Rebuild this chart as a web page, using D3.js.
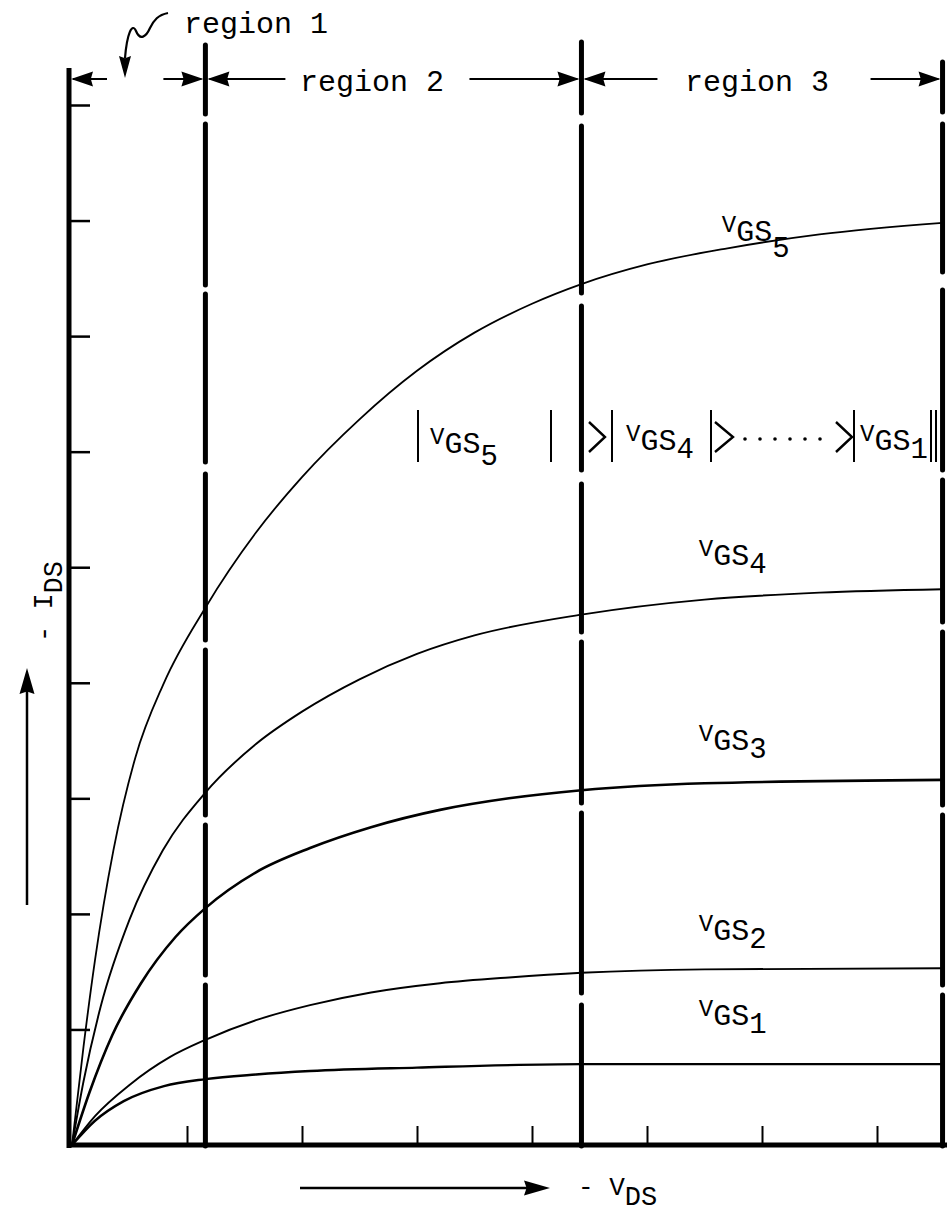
<!DOCTYPE html>
<html><head><meta charset="utf-8">
<script src="https://cdn.jsdelivr.net/npm/d3@7"></script>
<style>html,body{margin:0;padding:0;background:#fff;}</style>
</head><body>
<script>
// ---- data ----
const xTicks = [1,2,3,4,5,6,7];
const yTicks = [1,2,3,4,5,6,7,8,9];
const regionBounds = [1.16, 4.43, 7.57];
const regionNames = ["region 1","region 2","region 3"];
const seriesNames = ["5","4","3","2","1"];
const vgs5 = [[0,0],[0.1,0.85],[0.2,1.6],[0.36,2.55],[0.55,3.35],[0.8,4.0],[1.16,4.65],[1.6,5.3],[2.0,5.78],[2.5,6.28],[3.0,6.7],[3.5,7.03],[4.0,7.28],[4.43,7.45],[5.0,7.62],[5.7,7.76],[6.5,7.88],[7.57,7.98]];
const vgs4 = [[0,0],[0.1,0.55],[0.25,1.2],[0.5,1.95],[0.79,2.55],[1.16,3.05],[1.6,3.47],[2.0,3.75],[2.5,4.03],[3.0,4.25],[3.5,4.41],[4.43,4.59],[5.5,4.72],[6.5,4.78],[7.57,4.81]];
const vgs3 = [[0,0],[0.15,0.45],[0.35,0.95],[0.6,1.4],[0.9,1.8],[1.16,2.05],[1.6,2.36],[2.07,2.57],[2.6,2.75],[3.2,2.9],[3.8,3.0],[4.43,3.07],[5.5,3.13],[7.57,3.16]];
const vgs2 = [[0,0],[0.2,0.25],[0.5,0.52],[0.85,0.76],[1.16,0.91],[1.6,1.08],[2.07,1.21],[2.6,1.32],[3.2,1.4],[3.8,1.45],[4.43,1.49],[5.5,1.52],[7.57,1.53]];
const vgs1 = [[0,0],[0.2,0.21],[0.45,0.38],[0.8,0.51],[1.16,0.57],[1.6,0.61],[2.07,0.64],[3.0,0.67],[4.43,0.70],[7.57,0.70]];
const seriesData = [vgs5, vgs4, vgs3, vgs2, vgs1];
const labelPos = [[5.65,7.9],[5.45,5.1],[5.45,3.5],[5.45,1.85],[5.45,1.12]];

// ---- drawing ----
const W = 947, H = 1223;
const svg = d3.select("body").append("svg").attr("width", W).attr("height", H)
  .style("background","#fff");
const font = "'Liberation Mono','DejaVu Sans Mono',monospace";
const x = d3.scaleLinear().domain([0, 7.6]).range([72, 946]);
const y = d3.scaleLinear().domain([0, 9]).range([1145, 105]);

// curves
const line = d3.line().x(d => x(d[0])).y(d => y(d[1])).curve(d3.curveMonotoneX);
const widths = [1.8, 1.9, 2.6, 1.9, 2.4];
svg.selectAll("path.curve").data(seriesData).join("path")
  .attr("class","curve").attr("d", line)
  .attr("fill","none").attr("stroke","#000")
  .attr("stroke-width",(d,i)=>widths[i]);

// region lines (dashed, thick) — gaps as [start,end] in pixels along the line
const gaps = [
  [[114,124],[285,294],[462,474],[640,650],[815,825],[975,985]],
  [[113,126],[293,306],[470,484],[632,642],[803,813],[993,1005]],
  [[112,124],[272,290],[470,480],[622,632],[805,815],[985,995]]
];
const lineTop = [45, 42, 62], lineBot = 1146;
regionBounds.forEach((b,i)=>{
  let segs = [], cur = lineTop[i];
  gaps[i].forEach(g=>{ segs.push([cur,g[0]]); cur = g[1]; });
  segs.push([cur,lineBot]);
  svg.append("g").selectAll("line").data(segs).join("line")
    .attr("x1", x(b)).attr("x2", x(b))
    .attr("y1", d=>d[0]).attr("y2", d=>d[1])
    .attr("stroke","#000").attr("stroke-width",5).attr("stroke-linecap","round");
});

// axes
const gx = svg.append("g").attr("transform",`translate(0,${y(0)})`)
  .call(d3.axisBottom(x).tickValues(xTicks).tickSizeInner(-19).tickSizeOuter(0).tickFormat(""));
gx.select(".domain").attr("stroke","#000").attr("stroke-width",5)
  .attr("d",`M${67},0H${W}`);
gx.selectAll(".tick line").attr("stroke","#000").attr("stroke-width",2);

const gy = svg.append("g").attr("transform",`translate(${x(0)-3},0)`)
  .call(d3.axisLeft(y).tickValues(yTicks).tickSizeInner(-21).tickSizeOuter(0).tickFormat(""));
gy.select(".domain").attr("stroke","#000").attr("stroke-width",5)
  .attr("d",`M0,${y(0)+3}V${68}`);
gy.selectAll(".tick line").attr("stroke","#000").attr("stroke-width",2.5);

// arrowhead helper
function arrowHead(tipX, tipY, dir, len=22, half=7.5) {
  let p;
  if (dir==='l') p = [[tipX,tipY],[tipX+len,tipY-half],[tipX+len*0.9,tipY],[tipX+len,tipY+half]];
  if (dir==='r') p = [[tipX,tipY],[tipX-len,tipY-half],[tipX-len*0.9,tipY],[tipX-len,tipY+half]];
  if (dir==='u') p = [[tipX,tipY],[tipX-half,tipY+len],[tipX,tipY+len*0.9],[tipX+half,tipY+len]];
  if (dir==='d') p = [[tipX,tipY],[tipX-half,tipY-len],[tipX,tipY-len*0.9],[tipX+half,tipY-len]];
  svg.append("path").attr("d","M"+p.map(q=>q.join(",")).join("L")+"Z").attr("fill","#000");
}
function hline(x1,x2,yy,w=2){svg.append("line").attr("x1",x1).attr("x2",x2).attr("y1",yy).attr("y2",yy).attr("stroke","#000").attr("stroke-width",w);}
function vline(xx,y1,y2,w=2){svg.append("line").attr("x1",xx).attr("x2",xx).attr("y1",y1).attr("y2",y2).attr("stroke","#000").attr("stroke-width",w);}

// top region arrows
const ay = 79;
const x0 = x(0)-3, r1 = x(regionBounds[0]), r2 = x(regionBounds[1]), r3 = x(regionBounds[2]);
hline(x0+4, x0+38, ay); arrowHead(x0+2, ay, 'l');
hline(r1-42, r1-4, ay); arrowHead(r1-2, ay, 'r');
hline(r1+4, r1+80, ay); arrowHead(r1+2, ay, 'l');
hline(r2-112, r2-4, ay); arrowHead(r2-2, ay, 'r');
hline(r2+4, r2+76, ay); arrowHead(r2+2, ay, 'l');
hline(r3-72, r3-4, ay); arrowHead(r3-2, ay, 'r');

const tfs = 30;
svg.append("text").attr("x",184).attr("y",33).text(regionNames[0])
  .attr("font-family",font).attr("font-size",tfs).attr("fill","#000");
svg.append("text").attr("x",372).attr("y",91).attr("text-anchor","middle").text(regionNames[1])
  .attr("font-family",font).attr("font-size",tfs).attr("fill","#000");
svg.append("text").attr("x",757).attr("y",91).attr("text-anchor","middle").text(regionNames[2])
  .attr("font-family",font).attr("font-size",tfs).attr("fill","#000");

// curly arrow for region 1
svg.append("path").attr("d","M168,13 C158,15 154,20 150,28 C146,37 140,41 136,31 C132,22 127,34 125,58")
  .attr("fill","none").attr("stroke","#000").attr("stroke-width",2.2);
arrowHead(125, 78, 'd', 22, 6);

// VGS labels
function vgsLabel(px, py, num, subDrop=8) {
  const t = svg.append("text").attr("x",px).attr("y",py)
    .attr("font-family",font).attr("fill","#000");
  t.append("tspan").text("V").attr("font-size",24);
  t.append("tspan").text("GS").attr("font-size",30).attr("dy",9);
  t.append("tspan").text(num).attr("font-size",29).attr("dy",subDrop);
  return t;
}
seriesNames.forEach((n,i)=>{
  const lp = labelPos[i];
  vgsLabel(x(lp[0]), y(lp[1]), n, i===0?16:8);
});

// inequality |VGS5| > |VGS4| > ...... > |VGS1|
const iy0 = 410, iy1 = 462;
vline(418, iy0, iy1, 2); vline(551, iy0, iy1, 2);
vgsLabel(430, 444, "5", 12);
svg.append("path").attr("d","M589,422 L605,437 L589,452").attr("fill","none").attr("stroke","#000").attr("stroke-width",2.4);
vline(612, iy0, iy1, 2); vline(711, iy0, iy1, 2);
vgsLabel(626, 441, "4", 8);
svg.append("path").attr("d","M715,422 L733,437 L715,452").attr("fill","none").attr("stroke","#000").attr("stroke-width",2.4);
d3.range(6).forEach(i=>{
  svg.append("circle").attr("cx",745+i*15).attr("cy",439).attr("r",1.8).attr("fill","#000");
});
svg.append("path").attr("d","M836,422 L852,437 L836,452").attr("fill","none").attr("stroke","#000").attr("stroke-width",2.4);
vline(854, iy0, iy1, 2);
vgsLabel(860, 441, "1", 8);
vline(931, iy0, iy1, 2); vline(936, iy0, iy1, 2);

// axis titles
hline(300, 530, 1188, 2.5); arrowHead(550, 1188, 'r', 26, 7.5);
const xt = svg.append("text").attr("x",578).attr("y",1195).attr("font-family",font).attr("fill","#000");
xt.append("tspan").text("- V").attr("font-size",26);
xt.append("tspan").text("DS").attr("font-size",27).attr("dy",10);

vline(27, 905, 690, 2.5); arrowHead(27, 668, 'u', 26, 7.5);
const yt = svg.append("text").attr("transform","translate(52,642) rotate(-90)")
  .attr("font-family",font).attr("fill","#000");
yt.append("tspan").text("- I").attr("font-size",27);
yt.append("tspan").text("DS").attr("font-size",27).attr("dy",10);
</script>
</body></html>
